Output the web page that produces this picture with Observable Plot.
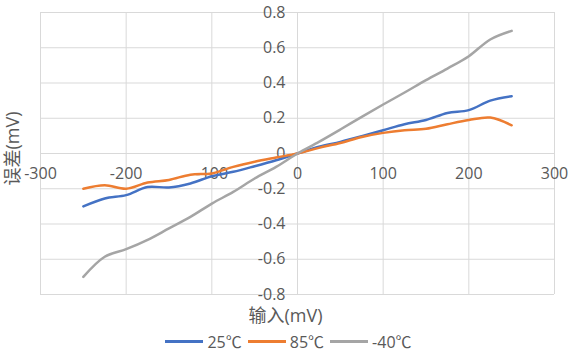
<!DOCTYPE html>
<html>
<head>
<meta charset="utf-8">
<script src="https://cdn.jsdelivr.net/npm/d3@7"></script>
<script src="https://cdn.jsdelivr.net/npm/@observablehq/plot@0.6"></script>
<style>
  body { margin: 0; background: #fff; }
  #chart { width: 571px; height: 352px; position: relative; font-family: "Open Sans", "Noto Sans CJK SC", sans-serif; }
  .legend { display: flex; justify-content: center; align-items: center; height: 26px; font-size: 16px; color: #595959; padding-left: 6px; }
  .legend .item { display: flex; align-items: center; margin: 0 3px; }
  .legend .sw { width: 38px; height: 3px; margin-right: 4px; }
</style>
</head>
<body>
<div id="chart"></div>
<script>
const xs = [-250,-225,-200,-175,-150,-125,-100,-75,-50,-25,0,25,50,75,100,125,150,175,200,225,250];
const err25 = [-0.30,-0.255,-0.236,-0.19,-0.193,-0.17,-0.129,-0.104,-0.072,-0.038,0,0.038,0.066,0.098,0.132,0.166,0.19,0.23,0.246,0.30,0.325];
const err85 = [-0.20,-0.18,-0.20,-0.165,-0.15,-0.12,-0.113,-0.076,-0.047,-0.023,0,0.032,0.06,0.094,0.117,0.132,0.14,0.166,0.19,0.204,0.16];
const errM40 = [-0.70,-0.586,-0.543,-0.49,-0.425,-0.36,-0.284,-0.218,-0.142,-0.076,0,0.066,0.136,0.208,0.278,0.346,0.416,0.482,0.552,0.647,0.696];
const seriesNames = ["25℃", "85℃", "-40℃"];
const seriesColors = ["#4472C4", "#ED7D31", "#A5A5A5"];
const xTicks = [-300,-200,-100,0,100,200,300];
const xTickLabels = ["-300","-200","-100","0","100","200","300"];
const yTicks = [0.8,0.6,0.4,0.2,0,-0.2,-0.4,-0.6,-0.8];
const yTickLabels = ["0.8","0.6","0.4","0.2","0","-0.2","-0.4","-0.6","-0.8"];
const xTitle = "输入(mV)";
const yTitle = "误差(mV)";

const seriesValues = [err25, err85, errM40];
const rows = [];
seriesValues.forEach((vals, si) => vals.forEach((v, i) => rows.push({x: xs[i], y: v, s: seriesNames[si]})));
const xT = xTicks.map((v, i) => ({v, t: xTickLabels[i]}));
const yT = yTicks.map((v, i) => ({v, t: yTickLabels[i]}));

const plot = Plot.plot({
  width: 571,
  height: 328,
  marginLeft: 40,
  marginRight: 17,
  marginTop: 12,
  marginBottom: 34,
  style: {fontFamily: '"Open Sans", "Noto Sans CJK SC", sans-serif', background: "#fff", color: "#595959"},
  x: {domain: [-300, 300], axis: null},
  y: {domain: [-0.8, 0.8], axis: null},
  color: {domain: seriesNames, range: seriesColors},
  marks: [
    Plot.ruleX(xTicks, {stroke: "#d9d9d9", strokeWidth: 1}),
    Plot.ruleY(yTicks, {stroke: "#d9d9d9", strokeWidth: 1}),
    Plot.text(xT, {x: "v", y: () => 0, text: "t", dy: 20, fontSize: 16, fill: "#595959"}),
    Plot.text(yT, {x: () => 0, y: "v", text: "t", dx: -12, textAnchor: "end", fontSize: 16, fill: "#595959"}),
    Plot.line(rows, {x: "x", y: "y", z: "s", stroke: "s", strokeWidth: 2.5, curve: "catmull-rom"}),
    Plot.text([xTitle], {frameAnchor: "bottom", lineAnchor: "middle", textAnchor: "middle", dx: -12, dy: 22, fontSize: 18, fill: "#595959"}),
    Plot.text([yTitle], {frameAnchor: "left", textAnchor: "middle", lineAnchor: "middle", rotate: -90, dx: -27, dy: -5, fontSize: 18, fill: "#595959"})
  ]
});
const chart = document.getElementById("chart");
chart.appendChild(plot);

const legend = document.createElement("div");
legend.className = "legend";
seriesNames.forEach((n, i) => {
  const item = document.createElement("div");
  item.className = "item";
  const sw = document.createElement("span");
  sw.className = "sw";
  sw.style.background = seriesColors[i];
  const t = document.createElement("span");
  t.textContent = n;
  item.appendChild(sw);
  item.appendChild(t);
  legend.appendChild(item);
});
chart.appendChild(legend);
</script>
</body>
</html>
